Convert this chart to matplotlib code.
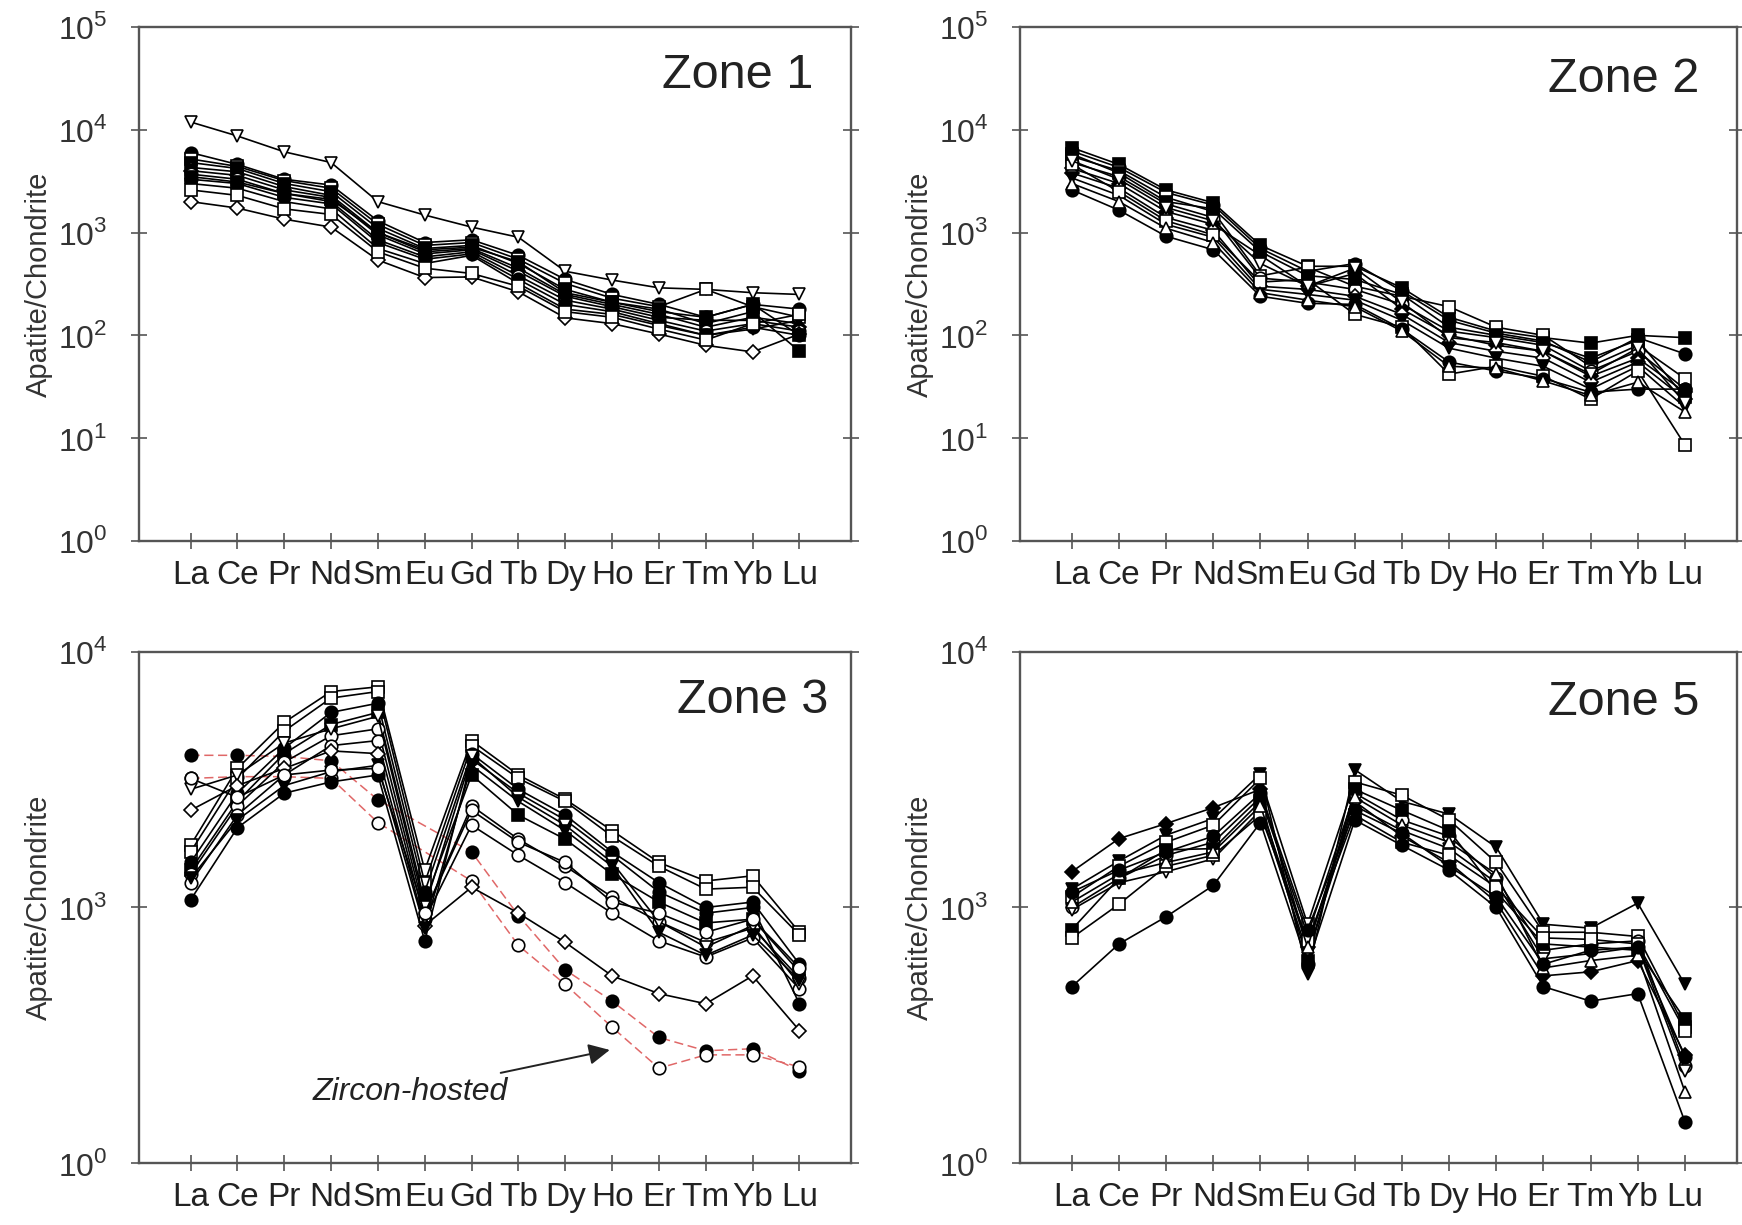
import numpy as np
import matplotlib.pyplot as plt
from matplotlib.ticker import FixedLocator, FixedFormatter, NullLocator

plt.rcParams['font.family'] = ['Liberation Sans', 'DejaVu Sans']
plt.rcParams['mathtext.fontset'] = 'custom'
plt.rcParams['mathtext.rm'] = 'Liberation Sans'

ree = ['La', 'Ce', 'Pr', 'Nd', 'Sm', 'Eu', 'Gd', 'Tb', 'Dy', 'Ho', 'Er', 'Tm', 'Yb', 'Lu']

# chondrite-normalised apatite REE, one row per analysis
zone1 = [
    [11900, 8700, 6100, 4800, 2000, 1480, 1130, 900, 420, 345, 290, 280, 260, 250],
    [6000, 4600, 3300, 2900, 1300, 800, 850, 600, 350, 250, 200, 150, 200, 180],
    [5200, 4400, 3200, 2700, 1200, 750, 800, 550, 320, 230, 190, 280, 190, 150],
    [4800, 4200, 3000, 2500, 1100, 700, 750, 500, 280, 210, 180, 130, 170, 70],
    [4300, 3900, 2800, 2300, 1000, 650, 700, 450, 250, 200, 160, 120, 150, 130],
    [4000, 3600, 2600, 2200, 950, 620, 680, 420, 240, 190, 150, 140, 140, 120],
    [3700, 3300, 2400, 2000, 850, 580, 650, 380, 220, 180, 140, 110, 130, 110],
    [3300, 3000, 2200, 1900, 800, 550, 620, 350, 200, 170, 130, 100, 120, 100],
    [3000, 2700, 2000, 1700, 700, 500, 600, 320, 180, 160, 125, 100, 115, 140],
    [2000, 1730, 1350, 1130, 540, 365, 370, 265, 148, 130, 103, 80, 69, 103],
    [2600, 2300, 1700, 1500, 650, 450, 400, 300, 170, 150, 115, 90, 130, 160],
    [3500, 3100, 2400, 2100, 1000, 680, 720, 520, 260, 210, 170, 150, 200, 100],
]
zone1_marker = ['v', 'o', 's', 's', '^', 'D', 'o', 'o', 'v', 'D', 's', 's']
zone1_filled = [False, True, False, True, False, True, False, True, True, False, False, True]

zone2 = [
    [6700, 4600, 2600, 1950, 750, 470, 470, 290, 150, 110, 95, 84, 100, 95],
    [6200, 4300, 2450, 1850, 700, 420, 500, 270, 140, 105, 88, 55, 95, 66],
    [5500, 4000, 2200, 1600, 380, 460, 300, 240, 190, 120, 100, 50, 80, 38],
    [4800, 3500, 1900, 1400, 360, 330, 280, 200, 110, 95, 80, 45, 70, 30],
    [4200, 3000, 1600, 1200, 600, 300, 400, 180, 100, 80, 70, 40, 60, 28],
    [3800, 2700, 1400, 1050, 300, 280, 240, 160, 85, 70, 60, 35, 55, 24],
    [3400, 2300, 1200, 900, 280, 250, 220, 140, 75, 60, 50, 30, 50, 20],
    [4600, 2500, 1300, 950, 330, 350, 160, 120, 42, 50, 40, 24, 45, 8.6],
    [2600, 1650, 920, 680, 240, 205, 200, 115, 55, 45, 38, 28, 30, 30],
    [3000, 2000, 1100, 800, 260, 220, 190, 110, 50, 48, 36, 26, 35, 18],
    [5800, 3800, 2000, 1700, 650, 380, 350, 250, 120, 100, 85, 60, 90, 25],
    [5000, 3300, 1750, 1300, 500, 300, 450, 210, 95, 85, 70, 42, 75, 22],
]
zone2_marker = ['s', 'o', 's', 'o', 'D', 'D', 'v', 's', 'o', '^', 's', 'v']
zone2_filled = [True, True, False, False, True, False, True, False, True, False, True, False]

zone3 = [
    [1750, 3500, 5300, 7000, 7300, 1400, 4500, 3300, 2650, 2000, 1500, 1270, 1330, 800],
    [1650, 3200, 4900, 6600, 7000, 1250, 4300, 3200, 2600, 1900, 1450, 1180, 1200, 780],
    [1500, 2800, 4200, 5800, 6300, 1150, 4000, 2900, 2300, 1650, 1250, 1000, 1050, 600],
    [1400, 2600, 4000, 5200, 5800, 1050, 3300, 2300, 1850, 1350, 1050, 870, 900, 560],
    [1350, 2500, 3700, 4700, 5000, 950, 2500, 1850, 1450, 1100, 880, 730, 830, 530],
    [1250, 2300, 3300, 4300, 4500, 900, 2100, 1600, 1250, 950, 740, 640, 760, 480],
    [1070, 2050, 2800, 3100, 3300, 740, 3800, 2800, 2200, 1600, 1150, 950, 1000, 420],
    [2900, 3300, 4400, 5000, 5600, 1000, 3900, 2700, 2100, 1500, 880, 700, 850, 500],
    [2400, 3000, 3500, 4100, 4000, 850, 1200, 950, 730, 540, 460, 420, 540, 330],
    [1300, 2200, 3000, 3400, 3600, 830, 3600, 2600, 2000, 1450, 800, 650, 780, 520],
    [3200, 2700, 3300, 3450, 3500, 950, 2400, 1800, 1500, 1050, 950, 800, 900, 580],
]
zone3_marker = ['s', 's', 'o', 's', 'o', 'o', 'o', 'v', 'D', 'v', 'o']
zone3_filled = [False, False, True, True, False, False, True, False, False, True, False]

# zircon-hosted inclusions (no Eu)
zircon = [
    [3940, 3940, 3900, 3750, 2640, np.nan, 1650, 930, 570, 430, 310, 275, 280, 230],
    [3200, 3250, 3250, 3200, 2150, np.nan, 1270, 710, 500, 340, 235, 265, 265, 238],
]
zircon_filled = [True, False]

zone5 = [
    [1380, 1860, 2130, 2460, 2900, 700, 2600, 1900, 1500, 1050, 540, 560, 620, 265],
    [1180, 1520, 1920, 2230, 3330, 550, 3460, 2600, 2320, 1720, 860, 830, 1040, 500],
    [1100, 1450, 1800, 2100, 3200, 860, 3100, 2750, 2200, 1500, 800, 800, 770, 340],
    [1000, 1300, 1600, 1800, 2700, 780, 2800, 2200, 1900, 1300, 680, 720, 740, 240],
    [980, 1250, 1380, 1550, 2400, 660, 2500, 2000, 1700, 1250, 630, 660, 700, 230],
    [820, 1300, 1680, 1700, 2600, 620, 2900, 2400, 2000, 1150, 720, 700, 680, 365],
    [760, 1030, 1450, 1600, 2300, 740, 2300, 1800, 1600, 1200, 760, 750, 720, 330],
    [490, 720, 920, 1220, 2150, 600, 2200, 1750, 1400, 1000, 490, 430, 460, 145],
    [1050, 1350, 1500, 1650, 2500, 700, 2700, 2100, 1800, 1350, 580, 620, 650, 190],
    [1150, 1400, 1650, 1900, 2800, 820, 2400, 1950, 1450, 1100, 600, 680, 700, 260],
]
zone5_marker = ['D', 'v', 's', 'o', 'v', 's', 's', 'o', '^', 'o']
zone5_filled = [True, True, False, False, False, True, False, True, False, True]

ticks_upper = [1, 10, 100, 1000, 10000, 100000]
labels_upper = ['10$^{0}$', '10$^{1}$', '10$^{2}$', '10$^{3}$', '10$^{4}$', '10$^{5}$']
ticks_lower = [100, 1000, 10000]
labels_lower = ['10$^{0}$', '10$^{3}$', '10$^{4}$']

x = np.arange(len(ree))

fig = plt.figure(figsize=(17.42, 12.25), dpi=100)
ax1 = fig.add_axes([0.0798, 0.5584, 0.4087, 0.4196])
ax2 = fig.add_axes([0.5855, 0.5584, 0.4115, 0.4196])
ax3 = fig.add_axes([0.0798, 0.0506, 0.4087, 0.4172])
ax5 = fig.add_axes([0.5855, 0.0506, 0.4115, 0.4172])


def draw_lines(ax, rows, markers, filled, color='black', ls='-', lw=1.2):
    for vals, m, f in zip(rows, markers, filled):
        v = np.array(vals, dtype=float)
        ok = ~np.isnan(v)
        ax.plot(x[ok], v[ok], color=color, ls=ls, lw=lw, marker=m,
                ms=9 if m != 'D' else 7.5, mec='black', mew=1.2,
                mfc='black' if f else 'white')


def style(ax, ylim, ticks, labels, title, tx, ty):
    ax.set_yscale('log')
    ax.set_ylim(*ylim)
    ax.set_xlim(-1.1, 14.1)
    ax.set_xticks(x)
    ax.set_xticklabels(ree)
    ax.yaxis.set_major_locator(FixedLocator(ticks))
    ax.yaxis.set_major_formatter(FixedFormatter(labels))
    ax.yaxis.set_minor_locator(NullLocator())
    for s in ax.spines.values():
        s.set_color('#555555')
        s.set_linewidth(1.7)
    ax.tick_params(axis='x', direction='inout', length=11, width=1.2,
                   color='#555555', labelsize=24, pad=8, labelcolor='#222222')
    ax.tick_params(axis='y', direction='inout', length=11, width=1.2,
                   color='#555555', labelsize=23, pad=17, labelcolor='#333333',
                   right=True)
    ax.set_ylabel('Apatite/Chondrite', fontsize=21, color='#333333', labelpad=4)
    ax.text(tx, ty, title, transform=ax.transAxes, ha='right', va='center',
            fontsize=35, color='#222222')


draw_lines(ax1, zone1, zone1_marker, zone1_filled)
style(ax1, (1, 1e5), ticks_upper, labels_upper, 'Zone 1', 0.947, 0.905)

draw_lines(ax2, zone2, zone2_marker, zone2_filled)
style(ax2, (1, 1e5), ticks_upper, labels_upper, 'Zone 2', 0.948, 0.897)

draw_lines(ax3, zircon, ['o', 'o'], zircon_filled, color='#e06868', ls=(0, (6, 3)), lw=1.1)
draw_lines(ax3, zone3, zone3_marker, zone3_filled)
style(ax3, (100, 1e4), ticks_lower, labels_lower, 'Zone 3', 0.968, 0.905)
ax3.annotate('Zircon-hosted', xy=(8.95, 277), xytext=(4.7, 190),
             fontsize=23, style='italic', color='#222222', ha='center', va='center',
             arrowprops=dict(arrowstyle='-|>', color='#222222', lw=1.4,
                             mutation_scale=32, shrinkA=4, shrinkB=0))

draw_lines(ax5, zone5, zone5_marker, zone5_filled)
style(ax5, (100, 1e4), ticks_lower, labels_lower, 'Zone 5', 0.948, 0.902)

fig.savefig('out.png', dpi=100)
